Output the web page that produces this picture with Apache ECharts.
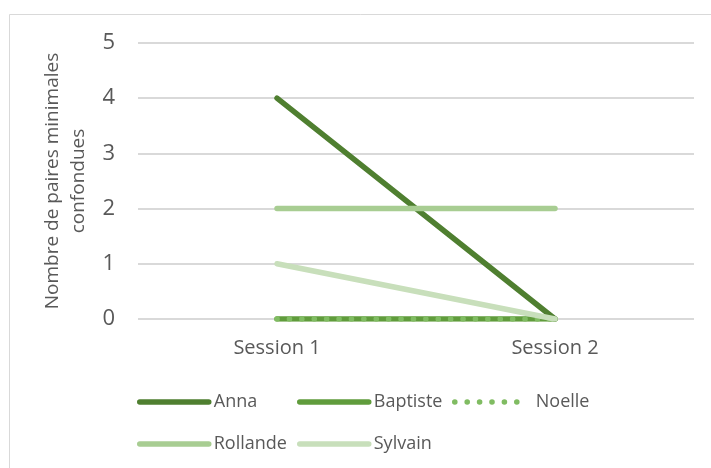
<!DOCTYPE html>
<html>
<head>
<meta charset="utf-8">
<script src="https://cdn.jsdelivr.net/npm/echarts@6/dist/echarts.min.js"></script>
<style>
html,body{margin:0;padding:0;background:#fff;}
#chart{width:711px;height:468px;}
</style>
</head>
<body>
<div id="chart"></div>
<script>
const categories = ['Session 1', 'Session 2'];
const seriesNames = ['Anna', 'Baptiste', 'Noelle', 'Rollande', 'Sylvain'];
const anna = [4, 0];
const baptiste = [0, 0];
const noelle = [0, 0];
const rollande = [2, 2];
const sylvain = [1, 0];
const yTicks = [0, 1, 2, 3, 4, 5];
const yAxisTitle = 'Nombre de paires minimales\nconfondues';

const values = [anna, baptiste, noelle, rollande, sylvain];
const colors = ['#4F7F30', '#609C3C', '#80BC62', '#A8CD92', '#C8DFBB'];
const dashes = ['solid', 'solid', [0.1, 12.3], 'solid', 'solid'];
const legendPos = [
  {left: 137, top: 391, pad: 0},
  {left: 297, top: 391, pad: 0},
  {left: 452, top: 391, pad: 7},
  {left: 137, top: 433, pad: 0},
  {left: 297, top: 433, pad: 0}
];
const FONT = '"Open Sans", "Liberation Sans", sans-serif';
const TXT = '#595959';

const chart = echarts.init(document.getElementById('chart'), null, {renderer: 'canvas'});

const series = seriesNames.map((n, i) => ({
  name: n,
  type: 'line',
  data: values[i],
  symbol: 'none',
  showSymbol: false,
  lineStyle: {color: colors[i], width: 5.5, cap: 'round', join: 'round', type: dashes[i]},
  itemStyle: {color: colors[i]},
  emphasis: {disabled: true},
  animation: false,
  z: 2 + i
}));

const legends = seriesNames.map((n, i) => ({
  data: [n],
  left: legendPos[i].left,
  top: legendPos[i].top,
  orient: 'horizontal',
  padding: 0,
  itemWidth: 69,
  itemHeight: 22,
  selectedMode: false,
  itemStyle: {opacity: 0, borderWidth: 0},
  lineStyle: {width: 5.5, cap: 'round', type: dashes[i], color: colors[i], opacity: 1},
  textStyle: {
    fontFamily: FONT, fontSize: 18, color: TXT, lineHeight: 22,
    padding: [0, 0, 0, legendPos[i].pad]
  }
}));

const option = {
  animation: false,
  backgroundColor: '#ffffff',
  graphic: [{
    type: 'rect',
    shape: {x: 9.5, y: 14.5, width: 720, height: 470},
    style: {fill: 'none', stroke: '#D9D9D9', lineWidth: 1},
    silent: true, z: -10
  }],
  grid: {left: 138, right: 17, top: 43, bottom: 149, containLabel: false},
  legend: legends,
  xAxis: {
    type: 'category',
    data: categories,
    boundaryGap: true,
    axisLine: {show: false},
    axisTick: {show: false},
    axisLabel: {fontFamily: FONT, fontSize: 20, color: TXT, margin: 18, lineHeight: 22}
  },
  yAxis: {
    type: 'value',
    min: yTicks[0],
    max: yTicks[yTicks.length - 1],
    interval: 1,
    name: yAxisTitle,
    nameLocation: 'middle',
    nameRotate: 90,
    nameGap: 40,
    nameTextStyle: {fontFamily: FONT, fontSize: 19, color: TXT, lineHeight: 26, align: 'center'},
    axisLine: {show: false},
    axisTick: {show: false},
    splitLine: {lineStyle: {color: '#D9D9D9', width: 2}},
    axisLabel: {fontFamily: FONT, fontSize: 22, color: TXT, margin: 23}
  },
  series: series
};
chart.setOption(option);
</script>
</body>
</html>
